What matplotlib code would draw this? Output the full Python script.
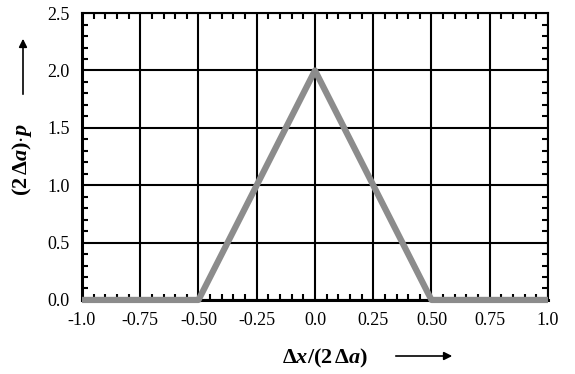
import numpy as np
import matplotlib as mpl
import matplotlib.pyplot as plt
from matplotlib.ticker import MultipleLocator

mpl.rc('font', family='Liberation Serif')
mpl.rcParams['mathtext.fontset'] = 'custom'
mpl.rcParams['mathtext.rm'] = 'Liberation Serif:bold'
mpl.rcParams['mathtext.bf'] = 'Liberation Serif:bold'
mpl.rcParams['mathtext.it'] = 'Liberation Serif:italic:bold'

# 삼각형 분포
dx = [-1.0, -0.5, 0.0, 0.5, 1.0]
p = [0.0, 0.0, 2.0, 0.0, 0.0]
xticks = [-1.0, -0.75, -0.5, -0.25, 0.0, 0.25, 0.5, 0.75, 1.0]
xticklabels = ['-1.0', '-0.75', '-0.50', '-0.25', '0.0', '0.25', '0.50', '0.75', '1.0']
yticks = [0.0, 0.5, 1.0, 1.5, 2.0, 2.5]
yticklabels = ['0.0', '0.5', '1.0', '1.5', '2.0', '2.5']

fig = plt.figure(figsize=(5.75, 3.74), dpi=100)
ax = fig.add_axes([0.1426, 0.198, 0.8104, 0.767])

ax.plot(dx, p, color='#8c8c8c', lw=4.5, zorder=3, clip_on=False,
        solid_capstyle='butt')

ax.set_xlim(-1, 1)
ax.set_ylim(0, 2.5)
ax.set_xticks(xticks)
ax.set_xticklabels(xticklabels)
ax.set_yticks(yticks)
ax.set_yticklabels(yticklabels)
ax.xaxis.set_minor_locator(MultipleLocator(0.05))
ax.yaxis.set_minor_locator(MultipleLocator(0.1))
ax.grid(True, which='major', color='black', lw=1.5)
ax.tick_params(which='major', length=0, labelsize=13, pad=9)
ax.tick_params(which='minor', direction='in', length=4, width=1.5,
               top=True, right=True)
for side in ['left', 'bottom']:
    ax.spines[side].set_linewidth(2.2)
for side in ['top', 'right']:
    ax.spines[side].set_linewidth(1.5)

# 축 이름과 화살표
fig.text(325 / 575, 1 - 358 / 374, r'$\Delta x/(2\,\Delta a)$', fontsize=16,
         ha='center', va='center')
fig.text(22 / 575, 1 - 160 / 374, r'$(2\,\Delta a){\cdot}p$', fontsize=16,
         ha='center', va='center', rotation=90)
fig.patches.append(mpl.patches.FancyArrowPatch(
    (393 / 575, 1 - 356 / 374), (455 / 575, 1 - 356 / 374),
    transform=fig.transFigure, arrowstyle='-|>', mutation_scale=12,
    color='black', lw=1.2))
fig.patches.append(mpl.patches.FancyArrowPatch(
    (23 / 575, 1 - 97 / 374), (23 / 575, 1 - 36 / 374),
    transform=fig.transFigure, arrowstyle='-|>', mutation_scale=12,
    color='black', lw=1.2))

fig.savefig('out.png', dpi=100)
